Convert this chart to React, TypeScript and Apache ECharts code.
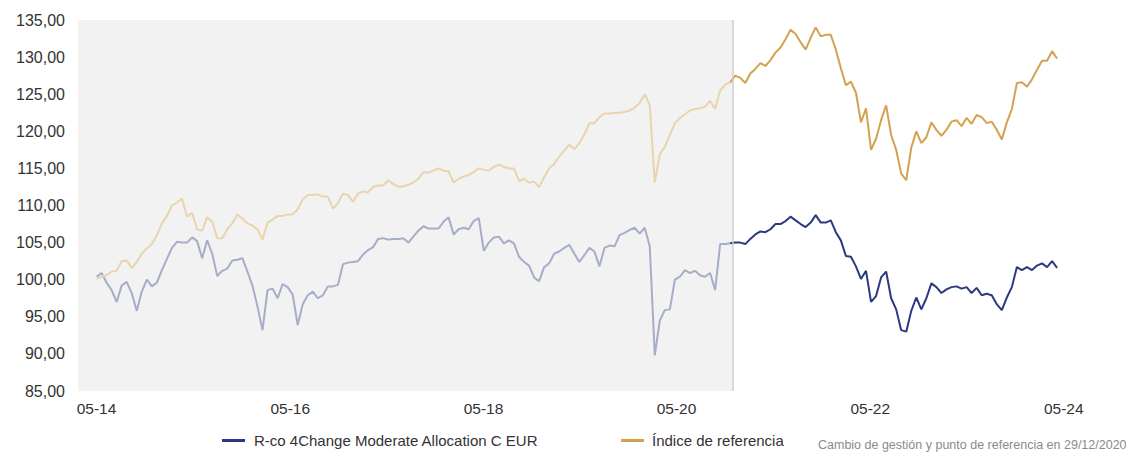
import React, { useEffect, useRef } from "react";
import * as echarts from "echarts";

// Sampling: first observation and spacing between observations (days)
const START_DATE = "2014-05-30";
const STEP_DAYS = 19;
const CHANGE_DATE = "2020-12-29";
const CHANGE_INDEX = 126;

const FUND_NAME = "R-co 4Change Moderate Allocation C EUR";
const INDEX_NAME = "Índice de referencia";
const FOOTNOTE = "Cambio de gestión y punto de referencia en 29/12/2020";

const xTickDates = ["2014-05-30", "2016-05-31", "2018-05-31", "2020-05-29", "2022-05-31", "2024-05-31"];

const fundValues = [
  100.4, 100.9, 99.6, 98.6, 97.0, 99.2, 99.7, 98.2, 95.8, 98.4,
  100.0, 99.1, 99.6, 101.3, 102.8, 104.3, 105.1, 105.0, 105.0, 105.7,
  105.2, 102.9, 105.3, 103.5, 100.5, 101.2, 101.5, 102.6, 102.7, 102.9,
  101.1, 99.2, 96.4, 93.2, 98.6, 98.8, 97.5, 99.4, 99.0, 98.0,
  93.9, 96.7, 97.9, 98.4, 97.5, 97.9, 99.1, 99.1, 99.3, 102.1,
  102.3, 102.4, 102.5, 103.4, 104.0, 104.4, 105.5, 105.6, 105.4, 105.5,
  105.5, 105.6, 105.0, 105.8, 106.6, 107.2, 106.9, 106.9, 106.9, 107.8,
  108.4, 106.1, 106.8, 107.0, 106.8, 107.9, 108.3, 103.9, 105.0, 105.7,
  105.8, 104.9, 105.3, 104.9, 103.1, 102.4, 101.9, 100.3, 99.8, 101.7,
  102.2, 103.5, 103.8, 104.3, 104.7, 103.5, 102.4, 103.3, 104.3, 103.8,
  101.8, 104.3, 104.6, 104.5, 106.0, 106.3, 106.7, 107.0, 106.2, 107.0,
  104.5, 89.8, 94.5, 95.9, 96.0, 100.0, 100.4, 101.3, 100.9, 101.2,
  100.6, 100.4, 100.9, 98.6, 104.8, 104.8, 104.9, 105.0, 105.0, 104.8,
  105.5, 106.1, 106.5, 106.4, 106.8, 107.5, 107.5, 107.9, 108.5, 108.0,
  107.5, 107.1, 107.7, 108.7, 107.7, 107.7, 108.0, 106.4, 105.3, 103.2,
  103.1, 101.8, 100.1, 101.2, 97.0, 97.8, 100.3, 101.1, 97.5, 96.0,
  93.2, 93.0, 95.8, 97.6, 96.0, 97.5, 99.5, 99.0, 98.2, 98.7,
  99.0, 99.1, 98.8, 99.0, 98.2, 98.9, 97.9, 98.1, 97.9, 96.7,
  95.9, 97.6, 99.0, 101.7, 101.3, 101.7, 101.3, 101.9, 102.2, 101.7,
  102.5, 101.6,
];

const indexValues = [
  100.1, 100.4, 100.6, 101.1, 101.2, 102.5, 102.6, 101.6, 102.4, 103.5,
  104.2, 104.8, 106.0, 107.6, 108.6, 110.0, 110.4, 110.9, 108.5, 109.0,
  106.8, 106.6, 108.4, 107.8, 105.6, 105.6, 106.8, 107.6, 108.8, 108.2,
  107.6, 107.3, 106.8, 105.4, 107.7, 108.1, 108.6, 108.6, 108.8, 108.8,
  109.5, 110.8, 111.4, 111.4, 111.5, 111.2, 111.2, 109.6, 110.3, 111.6,
  111.4, 110.5, 111.6, 111.9, 111.8, 112.5, 112.7, 112.7, 113.4, 112.9,
  112.5, 112.6, 112.8, 113.1, 113.6, 114.5, 114.4, 114.7, 115.0, 114.7,
  114.6, 113.1, 113.6, 113.9, 114.1, 114.5, 115.0, 114.8, 114.7, 115.2,
  115.5, 115.2, 115.0, 115.0, 113.3, 113.6, 113.1, 113.2, 112.5, 113.8,
  115.0, 115.6, 116.6, 117.4, 118.2, 117.6, 118.4, 119.6, 121.1, 121.1,
  121.9, 122.4, 122.4, 122.5, 122.5, 122.6, 122.8, 123.2, 123.8, 125.0,
  123.5, 113.1, 116.9, 117.9, 119.5, 121.1, 121.8, 122.3, 122.8, 123.0,
  123.1, 123.3, 124.1, 123.0, 125.5, 126.3, 126.6, 127.5, 127.2, 126.5,
  127.8, 128.4, 129.2, 128.8, 129.6, 130.6, 131.3, 132.4, 133.7, 133.1,
  132.0, 131.0, 132.6, 134.0, 132.8, 133.0, 133.0, 131.0, 128.5, 126.2,
  126.7, 125.2, 121.2, 123.1, 117.5, 119.0, 121.5, 123.5, 119.5, 117.5,
  114.3, 113.4, 117.8, 120.0, 118.4, 119.2, 121.2, 120.2, 119.4, 120.2,
  121.3, 121.5, 120.7, 121.8, 121.0, 122.2, 121.9, 121.1, 121.3, 120.2,
  118.9, 121.2, 123.0, 126.5, 126.6, 126.0, 127.0, 128.3, 129.5, 129.5,
  130.8, 129.8,
];

const AXIS_MIN = "2014-03-21";
const AXIS_MAX = "2024-10-15";

const FUND_COLOR = "#2b3a80";
const FUND_FADED = "#a6adc9";
const INDEX_COLOR = "#d4a24e";
const INDEX_FADED = "#e9d4ad";
const SANS = "'Liberation Sans', Arial, sans-serif";

const DAY = 86400000;
const ts = (s: string) => new Date(s + "T00:00:00Z").getTime();
const t0 = ts(START_DATE);
const dates = fundValues.map((_, i) => t0 + i * STEP_DAYS * DAY);
const toPairs = (vals: number[]) => vals.map((v, i) => [dates[i], v]);

const legendBase = {
  top: 428,
  icon: "rect",
  itemWidth: 23,
  itemHeight: 3,
};

export default function App() {
  const ref = useRef<HTMLDivElement>(null);
  useEffect(() => {
    if (!ref.current) return;
    const chart = echarts.init(ref.current, null, { renderer: "svg" });
    const fundPairs = toPairs(fundValues);
    const indexPairs = toPairs(indexValues);
    chart.setOption({
      animation: false,
      backgroundColor: "#ffffff",
      grid: { left: 78, right: 26, top: 20, bottom: 61, containLabel: false },
      xAxis: {
        type: "value",
        min: ts(AXIS_MIN),
        max: ts(AXIS_MAX),
        axisLine: { show: false },
        axisTick: { show: false },
        splitLine: { show: false },
        axisLabel: {
          customValues: xTickDates.map(ts),
          formatter: (v: number) => {
            const d = new Date(v);
            const mm = String(d.getUTCMonth() + 1).padStart(2, "0");
            const yy = String(d.getUTCFullYear() % 100).padStart(2, "0");
            return mm + "-" + yy;
          },
          color: "#333333",
          fontSize: 15.5,
          fontFamily: SANS,
          margin: 9,
          hideOverlap: false,
          showMinLabel: true,
          showMaxLabel: true,
        },
      },
      yAxis: {
        type: "value",
        min: 85,
        max: 135,
        interval: 5,
        axisLine: { show: false },
        axisTick: { show: false },
        splitLine: { show: false },
        axisLabel: {
          formatter: (v: number) => v.toFixed(2).replace(".", ","),
          color: "#333333",
          fontSize: 16,
          fontFamily: SANS,
          margin: 13,
        },
      },
      legend: [
        {
          ...legendBase,
          data: [FUND_NAME],
          left: 217,
          textStyle: { color: "#333333", fontSize: 15, fontFamily: SANS, padding: [0, 0, 0, 4] },
        },
        {
          ...legendBase,
          data: [INDEX_NAME],
          left: 616,
          textStyle: { color: "#333333", fontSize: 15, fontFamily: SANS, padding: [0, 0, 0, 3] },
        },
      ],
      graphic: [
        {
          type: "text",
          left: 818,
          top: 438,
          style: { text: FOOTNOTE, fill: "#8a8a8a", fontSize: 12.5, fontFamily: SANS },
        },
      ],
      series: [
        {
          name: "fund-before",
          type: "line",
          data: fundPairs.slice(0, CHANGE_INDEX + 1),
          showSymbol: false,
          lineStyle: { color: FUND_FADED, width: 2 },
          itemStyle: { color: FUND_FADED },
          z: 3,
          markArea: {
            silent: true,
            itemStyle: { color: "#f2f2f2" },
            data: [[{ xAxis: ts(AXIS_MIN) }, { xAxis: ts(CHANGE_DATE) }]],
          },
          markLine: {
            silent: true,
            symbol: "none",
            label: { show: false },
            lineStyle: { color: "#cfcfcf", width: 1.5, type: "solid" },
            data: [{ xAxis: ts(CHANGE_DATE) }],
          },
        },
        {
          name: "index-before",
          type: "line",
          data: indexPairs.slice(0, CHANGE_INDEX + 1),
          showSymbol: false,
          lineStyle: { color: INDEX_FADED, width: 2 },
          itemStyle: { color: INDEX_FADED },
          z: 3,
        },
        {
          name: FUND_NAME,
          type: "line",
          data: fundPairs.slice(CHANGE_INDEX),
          showSymbol: false,
          lineStyle: { color: FUND_COLOR, width: 2 },
          itemStyle: { color: FUND_COLOR },
          z: 4,
        },
        {
          name: INDEX_NAME,
          type: "line",
          data: indexPairs.slice(CHANGE_INDEX),
          showSymbol: false,
          lineStyle: { color: INDEX_COLOR, width: 2 },
          itemStyle: { color: INDEX_COLOR },
          z: 4,
        },
      ],
    });
    return () => chart.dispose();
  }, []);
  return <div ref={ref} style={{ width: 1126, height: 452, position: "absolute", left: 0, top: 0 }} />;
}
